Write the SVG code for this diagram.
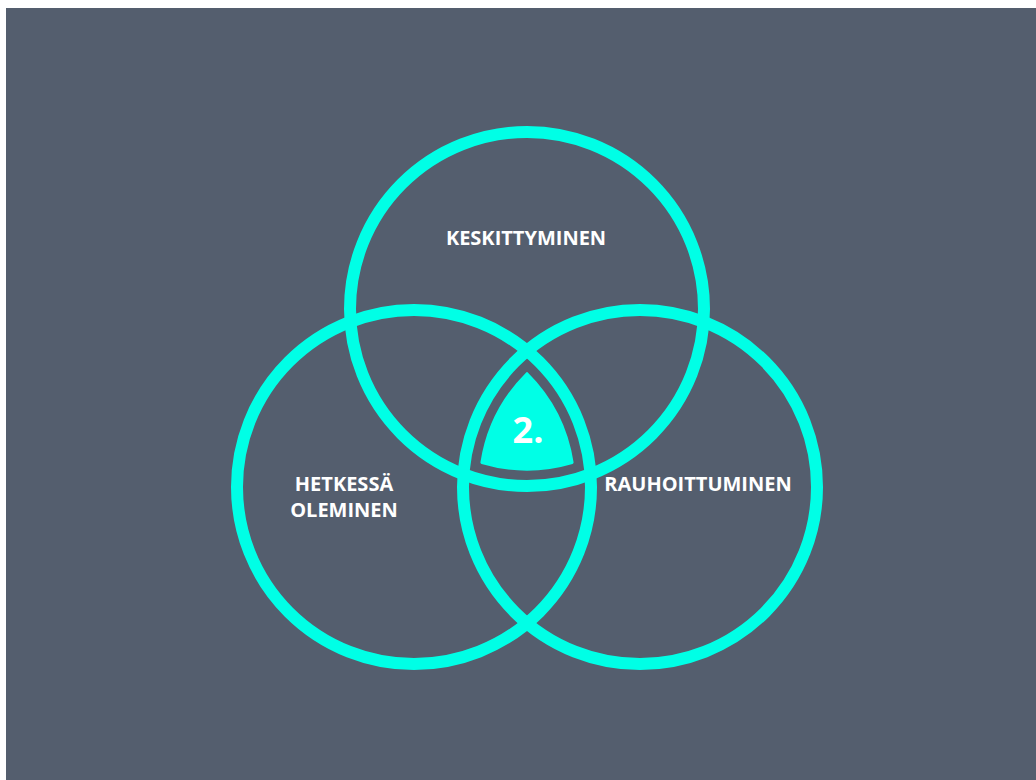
<svg xmlns="http://www.w3.org/2000/svg" width="1036" height="780" viewBox="0 0 1036 780">
  <style>
    .ring { fill: none; stroke: #00FFE6; stroke-width: 12; }
    .label { font-family: "Open Sans", "Liberation Sans", sans-serif; font-weight: 700; font-size: 20px; fill: #FFFFFF; text-anchor: middle; }
    .num { font-family: "Open Sans", "Liberation Sans", sans-serif; font-weight: 700; font-size: 36px; fill: #FFFFFF; text-anchor: middle; }
  </style>
  <rect x="0" y="0" width="1036" height="780" fill="#FFFFFF"/>
  <rect x="6" y="8" width="1030" height="772" fill="#545E6E"/>

  <!-- three overlapping rings -->
  <g id="ring-keskittyminen">
    <circle class="ring" cx="527" cy="309" r="177"/>
    <text class="label" x="526" y="245">KESKITTYMINEN</text>
  </g>
  <g id="ring-hetkessa">
    <circle class="ring" cx="414" cy="487" r="177"/>
    <text class="label" x="344" y="491">HETKESSÄ</text>
    <text class="label" x="344" y="517">OLEMINEN</text>
  </g>
  <g id="ring-rauhoittuminen">
    <circle class="ring" cx="640" cy="487" r="177"/>
    <text class="label" x="698" y="491">RAUHOITTUMINEN</text>
  </g>

  <!-- filled centre where all three rings overlap -->
  <g id="centre">
    <path d="M527 373.7 A160 160 0 0 1 572.1 462.5 A160 160 0 0 1 481.9 462.5 A160 160 0 0 1 527 373.7 Z"
          fill="#00FFE6" stroke="#00FFE6" stroke-width="3" stroke-linejoin="round"/>
    <text class="num" x="528" y="443">2.</text>
  </g>
</svg>
